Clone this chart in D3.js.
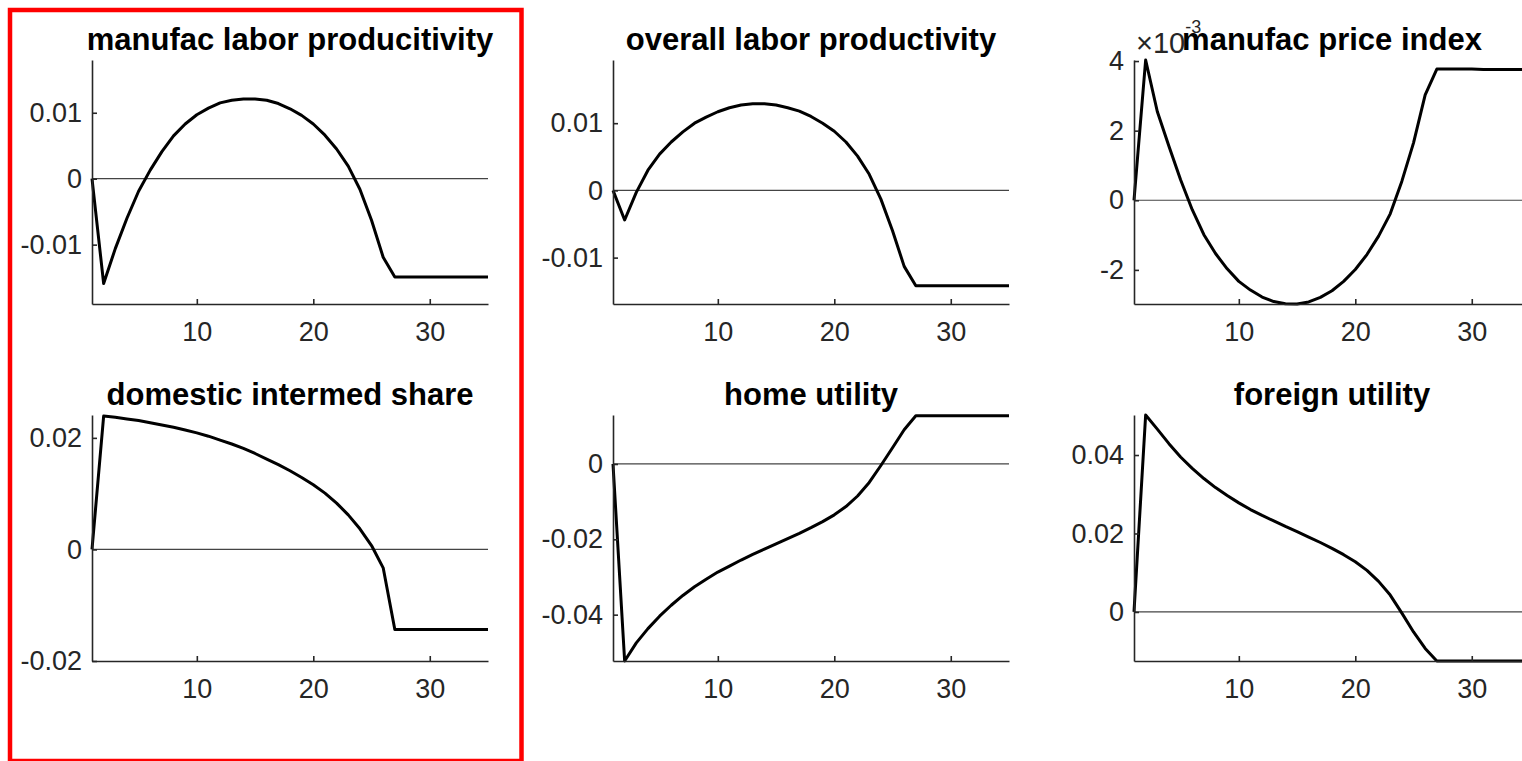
<!DOCTYPE html>
<html>
<head>
<meta charset="utf-8">
<script src="https://cdn.jsdelivr.net/npm/d3@7"></script>
<style>
  body { margin: 0; background: #fff; overflow: hidden; }
  svg { display: block; font-family: "Liberation Sans", Arial, sans-serif; }
</style>
</head>
<body>
<div id="chart"></div>
<script>
// periods 1..35
const periods = d3.range(1, 36);

const titles = [
  'manufac labor producitivity',
  'overall labor productivity',
  'manufac price index',
  'domestic intermed share',
  'home utility',
  'foreign utility'
];

const manufacLaborProd = [0, -0.0159, -0.0106, -0.0060, -0.0019, 0.0013, 0.0041, 0.0065, 0.0083, 0.0097,
  0.0107, 0.0115, 0.0119, 0.0121, 0.0121, 0.0119, 0.0114, 0.0106, 0.0096, 0.0083,
  0.0066, 0.0045, 0.0019, -0.0016, -0.0063, -0.0119, -0.0149, -0.0149, -0.0149, -0.0149,
  -0.0149, -0.0149, -0.0149, -0.0149, -0.0149];

const overallLaborProd = [0, -0.0044, -0.0003, 0.0030, 0.0054, 0.0072, 0.0087, 0.0100, 0.0109, 0.0117,
  0.0123, 0.0127, 0.0129, 0.0129, 0.0127, 0.0123, 0.0118, 0.0110, 0.0100, 0.0088,
  0.0072, 0.0051, 0.0024, -0.0013, -0.0060, -0.0113, -0.0142, -0.0142, -0.0142, -0.0142,
  -0.0142, -0.0142, -0.0142, -0.0142, -0.0142];

const manufacPrice = [0, 0.00403, 0.00255, 0.00155, 0.00059, -0.00027, -0.00099, -0.00153, -0.00197, -0.00233,
  -0.00258, -0.00278, -0.00291, -0.00297, -0.00298, -0.00292, -0.00279, -0.00260, -0.00233, -0.00199,
  -0.00156, -0.00103, -0.00039, 0.00055, 0.00165, 0.00303, 0.00377, 0.00377, 0.00377, 0.00377,
  0.00376, 0.00376, 0.00376, 0.00376, 0.00376];

const domesticShare = [0, 0.0239, 0.0237, 0.0234, 0.0231, 0.0227, 0.0223, 0.0219, 0.0214, 0.0209,
  0.0203, 0.0196, 0.0189, 0.0181, 0.0172, 0.0162, 0.0152, 0.0141, 0.0129, 0.0116,
  0.0101, 0.0083, 0.0062, 0.0037, 0.0007, -0.0033, -0.01435, -0.01435, -0.01435, -0.01435,
  -0.01435, -0.01435, -0.01435, -0.01435, -0.01435];

const homeUtility = [0, -0.0523, -0.0475, -0.0437, -0.0404, -0.0375, -0.0349, -0.0326, -0.0306, -0.0287,
  -0.0271, -0.0255, -0.0240, -0.0226, -0.0212, -0.0198, -0.0184, -0.0169, -0.0153, -0.0135,
  -0.0113, -0.0085, -0.0049, -0.0004, 0.0043, 0.0091, 0.0128, 0.0128, 0.0128, 0.0128,
  0.0128, 0.0128, 0.0128, 0.0128, 0.0128];

const foreignUtility = [0, 0.0502, 0.0466, 0.0429, 0.0395, 0.0366, 0.0340, 0.0317, 0.0297, 0.0278,
  0.0261, 0.0246, 0.0232, 0.0218, 0.0205, 0.0191, 0.0177, 0.0162, 0.0146, 0.0128,
  0.0106, 0.0078, 0.0043, -0.0003, -0.0051, -0.0093, -0.0125, -0.0125, -0.0125, -0.0125,
  -0.0125, -0.0125, -0.0125, -0.0125, -0.0125];

const series = [manufacLaborProd, overallLaborProd, manufacPrice, domesticShare, homeUtility, foreignUtility];

// y limits as shown on each axis
const yLimits = [
  [-0.019, 0.018],
  [-0.0169, 0.0194],
  [-0.00298, 0.00403],
  [-0.02, 0.0241],
  [-0.0523, 0.0130],
  [-0.0125, 0.0502]
];

const yTicks = [
  [-0.01, 0, 0.01],
  [-0.01, 0, 0.01],
  [-0.002, 0, 0.002, 0.004],
  [-0.02, 0, 0.02],
  [-0.04, -0.02, 0],
  [0, 0.02, 0.04]
];

const xTicks = [10, 20, 30];

const width = 1522;
const height = 761;
const colLeft = [92, 613, 1134];
const rowTop = [60, 415];
const axW = 396;
const axH = [244, 246];

const svg = d3.select('#chart')
  .append('svg')
  .attr('width', width)
  .attr('height', height);

function fmtTick(i) {
  if (i === 2) return d => String(Math.round(d * 1000));
  return d => d === 0 ? '0' : String(+d.toFixed(2));
}

function drawPanel(i) {
  const left = colLeft[i % 3];
  const top = rowTop[Math.floor(i / 3)];
  const h = axH[Math.floor(i / 3)];

  const x = d3.scaleLinear().domain([1, 35]).range([0, axW]);
  const y = d3.scaleLinear().domain(yLimits[i]).range([h, 0]);

  const g = svg.append('g').attr('transform', `translate(${left},${top})`);

  // zero line
  g.append('line')
    .attr('x1', x(1)).attr('x2', x(35))
    .attr('y1', y(0)).attr('y2', y(0))
    .attr('stroke', '#444')
    .attr('stroke-width', 1.2);

  const data = periods.map((p, k) => ({ p, v: series[i][k] }));
  g.append('path')
    .datum(data)
    .attr('fill', 'none')
    .attr('stroke', '#000')
    .attr('stroke-width', 3)
    .attr('stroke-linejoin', 'round')
    .attr('d', d3.line().x(d => x(d.p)).y(d => y(d.v)));

  const yAxis = d3.axisLeft(y)
    .tickValues(yTicks[i])
    .tickFormat(fmtTick(i))
    .tickSizeInner(-5)
    .tickSizeOuter(0)
    .tickPadding(10);

  const xAxis = d3.axisBottom(x)
    .tickValues(xTicks)
    .tickSizeInner(-5)
    .tickSizeOuter(0)
    .tickPadding(18);

  const ya = g.append('g').call(yAxis);
  const xa = g.append('g').attr('transform', `translate(0,${h})`).call(xAxis);

  [ya, xa].forEach(a => {
    a.attr('font-size', 27).attr('font-family', '"Liberation Sans", Arial, sans-serif');
    a.selectAll('path, line').attr('stroke', '#262626').attr('stroke-width', 1.6);
    a.selectAll('text').attr('fill', '#262626');
  });

  // exponent label for the price index
  if (i === 2) {
    const t = g.append('text')
      .attr('x', 2)
      .attr('y', -7)
      .attr('font-size', 29)
      .attr('fill', '#262626');
    t.append('tspan').text('×10');
    t.append('tspan').attr('font-size', 18).attr('dy', -20).text('-3');
  }

  g.append('text')
    .attr('x', axW / 2)
    .attr('y', -10)
    .attr('text-anchor', 'middle')
    .attr('font-size', 31)
    .attr('font-weight', 'bold')
    .attr('fill', '#000')
    .text(titles[i]);
}

titles.forEach((t, i) => drawPanel(i));

// red frame around first column
svg.append('rect')
  .attr('x', 10)
  .attr('y', 10)
  .attr('width', 511.5)
  .attr('height', 751)
  .attr('fill', 'none')
  .attr('stroke', '#ff0000')
  .attr('stroke-width', 4.5);
</script>
</body>
</html>
